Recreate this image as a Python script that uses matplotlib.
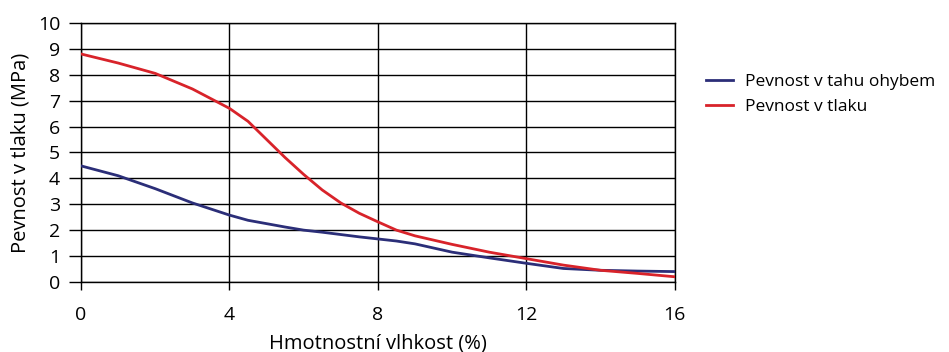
import matplotlib.pyplot as plt

plt.rcParams["font.family"] = ["Open Sans", "DejaVu Sans"]

# moisture content (%)
vlhkost = [0, 1, 2, 3, 4, 4.5, 5, 5.5, 6, 6.5, 7, 7.5, 8, 8.5, 9, 10, 11, 12, 13, 14, 15, 16]
# flexural tensile strength (MPa)
tah_ohybem = [4.48, 4.1, 3.6, 3.05, 2.58, 2.38, 2.25, 2.12, 2.0, 1.92, 1.83, 1.74, 1.66, 1.58, 1.47,
              1.15, 0.93, 0.72, 0.52, 0.45, 0.42, 0.4]
# compressive strength (MPa)
tlak = [8.8, 8.45, 8.05, 7.45, 6.7, 6.2, 5.5, 4.8, 4.15, 3.55, 3.05, 2.65, 2.32, 2.0, 1.78,
        1.45, 1.15, 0.9, 0.65, 0.45, 0.33, 0.2]

labels = ["Pevnost v tahu ohybem", "Pevnost v tlaku"]
colors = ["#2b2e78", "#d8232a"]

fig = plt.figure(figsize=(9.49, 3.52), dpi=100)
ax = fig.add_axes([0.0854, 0.199, 0.6256, 0.736])

ax.plot(vlhkost, tah_ohybem, color=colors[0], lw=2.0, label=labels[0], zorder=3)
ax.plot(vlhkost, tlak, color=colors[1], lw=2.0, label=labels[1], zorder=3)

ax.set_xlim(0, 16)
ax.set_ylim(0, 10)
ax.set_xticks([0, 4, 8, 12, 16])
ax.set_yticks(range(0, 11))
ax.grid(True, color="black", lw=1.0)
for s in ax.spines.values():
    s.set_linewidth(1.0)
ax.tick_params(axis="x", direction="out", length=6, width=1, pad=11, labelsize=14)
ax.tick_params(axis="y", direction="out", length=9, width=1, pad=6, labelsize=14)
ax.set_xlabel("Hmotnostní vlhkost (%)", fontsize=14.5, labelpad=7)
ax.set_ylabel("Pevnost v tlaku (MPa)", fontsize=14.5, labelpad=5)

fig.legend(loc="upper left", bbox_to_anchor=(0.727, 0.835), frameon=False, fontsize=12.5,
           handlelength=1.6, handletextpad=0.7, labelspacing=0.5)

fig.savefig("out.png", dpi=100)
